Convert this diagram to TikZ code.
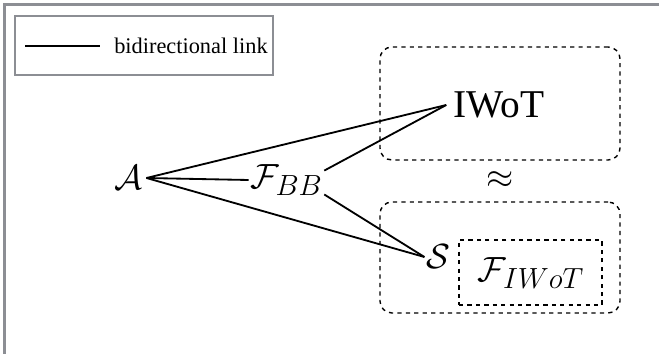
\documentclass[tikz,border=0pt]{standalone}
\usepackage{amsmath}
\usepackage{amssymb}
\usepackage{fontspec}
\setmainfont{Liberation Serif}
\usepackage{tikz}

\definecolor{framegray}{RGB}{140,142,148}

\tikzset{
  mathlabel/.style={inner sep=1pt, font=\fontsize{30}{33}\selectfont},
  dashbox/.style={draw, dashed, line width=1pt, rounded corners=0.3cm},
  link/.style={line width=1.3pt}
}

\begin{document}
\begin{tikzpicture}[x=0.025cm, y=-0.025cm]
    \useasboundingbox (0,0) rectangle (659,354);
    % frame and legend
    \draw [framegray, line width=1.6pt] (4.5,354) -- (4.5,4.5) -- (659,4.5);
    \node [draw=framegray, line width=1.6pt, minimum width=6.45cm,
      minimum height=1.475cm, inner sep=0pt] (legend) at (144,45.5) {};
    \coordinate (l1) at (25,46);
    \coordinate (l2) at (100,46);
    \draw [link] (l1) -- (l2);
    \node [anchor=west, inner sep=0pt, font=\fontsize{15.9}{18}\selectfont]
      (legtext) at (114,46) {bidirectional link};

    % boxes on the right
    \node [dashbox, minimum width=6cm, minimum height=2.825cm] (topbox) at (500,103.5) {};
    \node [dashbox, minimum width=6cm, minimum height=2.775cm] (botbox) at (500,257.5) {};
    \node [draw, dashed, line width=1pt, minimum width=3.575cm,
      minimum height=1.625cm] (fbox) at (530.5,272.5) {};

    \node [inner sep=5pt, font=\fontsize{28}{30}\selectfont] (iwot) at (499,105) {IWoT};
    \node [mathlabel] (approx) at (500,180) {$\approx$};
    \node [mathlabel] (s) at (438,257) {$\mathcal{S}$};
    \node [mathlabel] (fiwot) at (531,273) {$\mathcal{F}_{IWoT}$};
    \node [mathlabel, inner sep=3pt] (a) at (128,178) {$\mathcal{A}$};
    \node [mathlabel] (fbb) at (286.5,180) {$\mathcal{F}_{BB}$};

    % links
    \draw [link] (a.east) -- (iwot.west);
    \draw [link] (a.east) -- (fbb.west);
    \draw [link] (a.east) -- (s.west);
    \draw [link] (fbb.14) -- (iwot.west);
    \draw [link] (fbb.-21) -- (s.west);
\end{tikzpicture}
\end{document}
